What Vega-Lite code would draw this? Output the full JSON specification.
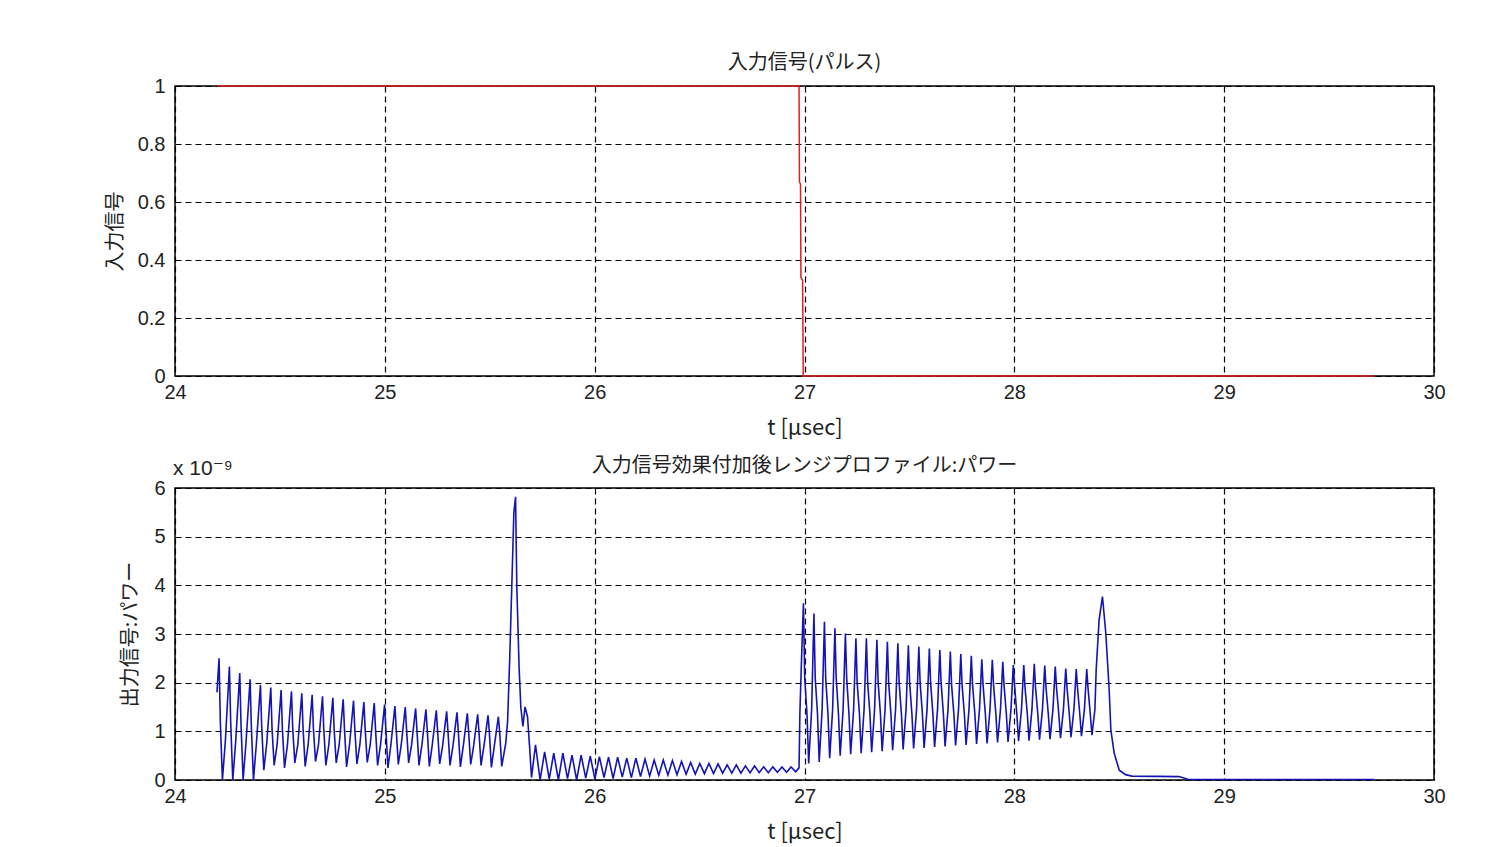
{
 "$schema": "https://vega.github.io/schema/vega-lite/v6.json",
 "background": "white",
 "padding": {"left": 104, "top": 52, "right": 10, "bottom": 5},
 "spacing": 16,
 "config": {
  "view": {"stroke": "#000", "strokeWidth": 1.5},
  "axis": {"grid": true, "gridColor": "#000", "gridDash": [6, 4], "gridWidth": 1.2, "gridOpacity": 1, "domain": false, "ticks": false,
   "labelFont": "Liberation Sans, DejaVu Sans", "labelFontSize": 20, "labelColor": "#222",
   "titleFont": "Noto Sans CJK JP", "titleFontSize": 20, "titleFontWeight": "normal", "titleColor": "#222",
   "labelFlush": false, "labelOverlap": false},
  "title": {"font": "Noto Sans CJK JP", "fontSize": 20, "fontWeight": "normal", "color": "#222", "offset": 3}
 },
 "datasets": {
  "pulse": [
   {"t": 24.2, "v": 1}, {"t": 26.974, "v": 1}, {"t": 26.976, "v": 0.67}, {"t": 26.981, "v": 0.66},
   {"t": 26.983, "v": 0.34}, {"t": 26.991, "v": 0.33}, {"t": 26.994, "v": 0}, {"t": 29.71, "v": 0}
  ],
  "power": [
   {"t": 24.2, "p": 1.8},
   {"t": 24.21, "p": 2.5}, {"t": 24.216, "p": 1.2}, {"t": 24.226, "p": 0}, {"t": 24.24, "p": 0.8},
   {"t": 24.2593, "p": 2.33}, {"t": 24.2653, "p": 1.2}, {"t": 24.2753, "p": 0}, {"t": 24.2893, "p": 0.8},
   {"t": 24.3086, "p": 2.2}, {"t": 24.3146, "p": 1.15}, {"t": 24.3246, "p": 0}, {"t": 24.3386, "p": 0.78},
   {"t": 24.3579, "p": 2.07}, {"t": 24.3639, "p": 1.1}, {"t": 24.3739, "p": 0}, {"t": 24.3879, "p": 0.75},
   {"t": 24.4072, "p": 1.95}, {"t": 24.4132, "p": 1.1}, {"t": 24.4232, "p": 0.2}, {"t": 24.4372, "p": 0.75},
   {"t": 24.4565, "p": 1.9}, {"t": 24.4625, "p": 1.05}, {"t": 24.4725, "p": 0.3}, {"t": 24.4865, "p": 0.72},
   {"t": 24.5058, "p": 1.85}, {"t": 24.5118, "p": 1.05}, {"t": 24.5218, "p": 0.25}, {"t": 24.5358, "p": 0.72},
   {"t": 24.5551, "p": 1.82}, {"t": 24.5611, "p": 1.05}, {"t": 24.5711, "p": 0.35}, {"t": 24.5851, "p": 0.72},
   {"t": 24.6044, "p": 1.78}, {"t": 24.6104, "p": 1.05}, {"t": 24.6204, "p": 0.28}, {"t": 24.6344, "p": 0.72},
   {"t": 24.6537, "p": 1.75}, {"t": 24.6597, "p": 1.05}, {"t": 24.6697, "p": 0.38}, {"t": 24.6837, "p": 0.72},
   {"t": 24.703, "p": 1.72}, {"t": 24.709, "p": 1.05}, {"t": 24.719, "p": 0.3}, {"t": 24.733, "p": 0.72},
   {"t": 24.7523, "p": 1.69}, {"t": 24.7583, "p": 1.05}, {"t": 24.7683, "p": 0.35}, {"t": 24.7823, "p": 0.72},
   {"t": 24.8016, "p": 1.66}, {"t": 24.8076, "p": 1.05}, {"t": 24.8176, "p": 0.27}, {"t": 24.8316, "p": 0.72},
   {"t": 24.8509, "p": 1.63}, {"t": 24.8569, "p": 1.05}, {"t": 24.8669, "p": 0.33}, {"t": 24.8809, "p": 0.72},
   {"t": 24.9002, "p": 1.6}, {"t": 24.9062, "p": 1.05}, {"t": 24.9162, "p": 0.36}, {"t": 24.9302, "p": 0.72},
   {"t": 24.9495, "p": 1.58}, {"t": 24.9555, "p": 1.05}, {"t": 24.9655, "p": 0.3}, {"t": 24.9795, "p": 0.72},
   {"t": 24.9988, "p": 1.55}, {"t": 25.0048, "p": 1.05}, {"t": 25.0148, "p": 0.25}, {"t": 25.0288, "p": 0.72},
   {"t": 25.0481, "p": 1.52}, {"t": 25.0541, "p": 1.05}, {"t": 25.0641, "p": 0.32}, {"t": 25.0781, "p": 0.72},
   {"t": 25.0974, "p": 1.5}, {"t": 25.1034, "p": 1.05}, {"t": 25.1134, "p": 0.35}, {"t": 25.1274, "p": 0.72},
   {"t": 25.1467, "p": 1.47}, {"t": 25.1527, "p": 1.05}, {"t": 25.1627, "p": 0.3}, {"t": 25.1767, "p": 0.72},
   {"t": 25.196, "p": 1.45}, {"t": 25.202, "p": 1.05}, {"t": 25.212, "p": 0.28}, {"t": 25.226, "p": 0.72},
   {"t": 25.2453, "p": 1.43}, {"t": 25.2513, "p": 1.02}, {"t": 25.2613, "p": 0.33}, {"t": 25.2753, "p": 0.7},
   {"t": 25.2946, "p": 1.41}, {"t": 25.3006, "p": 1.02}, {"t": 25.3106, "p": 0.3}, {"t": 25.3246, "p": 0.7},
   {"t": 25.3439, "p": 1.39}, {"t": 25.3499, "p": 1.02}, {"t": 25.3599, "p": 0.27}, {"t": 25.3739, "p": 0.7},
   {"t": 25.3932, "p": 1.37}, {"t": 25.3992, "p": 1.0}, {"t": 25.4092, "p": 0.32}, {"t": 25.4232, "p": 0.7},
   {"t": 25.4425, "p": 1.35}, {"t": 25.4485, "p": 1.0}, {"t": 25.4585, "p": 0.3}, {"t": 25.4725, "p": 0.7},
   {"t": 25.4918, "p": 1.33}, {"t": 25.4978, "p": 1.0}, {"t": 25.5078, "p": 0.26}, {"t": 25.5218, "p": 0.7},
   {"t": 25.5411, "p": 1.3}, {"t": 25.5471, "p": 1.0}, {"t": 25.5571, "p": 0.28}, {"t": 25.5761, "p": 0.75},
   {"t": 25.585, "p": 1.2}, {"t": 25.595, "p": 2.47}, {"t": 25.605, "p": 3.97}, {"t": 25.615, "p": 5.5},
   {"t": 25.623, "p": 5.82}, {"t": 25.629, "p": 3.97}, {"t": 25.64, "p": 2.3}, {"t": 25.648, "p": 1.5},
   {"t": 25.658, "p": 1.1}, {"t": 25.668, "p": 1.5}, {"t": 25.68, "p": 1.3}, {"t": 25.69, "p": 0.68},
   {"t": 25.699, "p": 0.05},
   {"t": 25.718, "p": 0.72}, {"t": 25.74, "p": 0.0},
   {"t": 25.7615, "p": 0.58}, {"t": 25.7835, "p": 0.02},
   {"t": 25.805, "p": 0.55}, {"t": 25.827, "p": 0.0},
   {"t": 25.8485, "p": 0.55}, {"t": 25.8705, "p": 0.03},
   {"t": 25.892, "p": 0.51}, {"t": 25.914, "p": 0.0},
   {"t": 25.9355, "p": 0.51}, {"t": 25.9575, "p": 0.04},
   {"t": 25.979, "p": 0.49}, {"t": 26.001, "p": 0.02},
   {"t": 26.0225, "p": 0.48}, {"t": 26.0445, "p": 0.05},
   {"t": 26.066, "p": 0.47}, {"t": 26.088, "p": 0.03},
   {"t": 26.1095, "p": 0.47}, {"t": 26.1315, "p": 0.06},
   {"t": 26.153, "p": 0.45}, {"t": 26.175, "p": 0.05},
   {"t": 26.1965, "p": 0.45}, {"t": 26.2185, "p": 0.07},
   {"t": 26.24, "p": 0.43}, {"t": 26.262, "p": 0.08},
   {"t": 26.2835, "p": 0.41}, {"t": 26.3055, "p": 0.1},
   {"t": 26.327, "p": 0.41}, {"t": 26.349, "p": 0.1},
   {"t": 26.3705, "p": 0.4}, {"t": 26.3925, "p": 0.11},
   {"t": 26.414, "p": 0.38}, {"t": 26.436, "p": 0.12},
   {"t": 26.4575, "p": 0.36}, {"t": 26.4795, "p": 0.12},
   {"t": 26.501, "p": 0.34}, {"t": 26.523, "p": 0.13},
   {"t": 26.5445, "p": 0.34}, {"t": 26.5665, "p": 0.13},
   {"t": 26.588, "p": 0.33}, {"t": 26.61, "p": 0.14},
   {"t": 26.6315, "p": 0.31}, {"t": 26.6535, "p": 0.14},
   {"t": 26.675, "p": 0.31}, {"t": 26.697, "p": 0.14},
   {"t": 26.7185, "p": 0.29}, {"t": 26.7405, "p": 0.15},
   {"t": 26.762, "p": 0.29}, {"t": 26.784, "p": 0.15},
   {"t": 26.8055, "p": 0.27}, {"t": 26.8275, "p": 0.15},
   {"t": 26.849, "p": 0.27}, {"t": 26.871, "p": 0.16},
   {"t": 26.8925, "p": 0.27}, {"t": 26.9145, "p": 0.16},
   {"t": 26.936, "p": 0.27}, {"t": 26.958, "p": 0.17},
   {"t": 26.974, "p": 0.25}, {"t": 26.978, "p": 1.37}, {"t": 26.986, "p": 2.5},
   {"t": 26.995, "p": 3.63}, {"t": 27.001, "p": 2.1}, {"t": 27.012, "p": 1.35}, {"t": 27.02, "p": 0.34}, {"t": 27.034, "p": 1.45},
   {"t": 27.045, "p": 3.42}, {"t": 27.051, "p": 2.1}, {"t": 27.062, "p": 1.35}, {"t": 27.07, "p": 0.37}, {"t": 27.084, "p": 1.45},
   {"t": 27.095, "p": 3.25}, {"t": 27.101, "p": 2.1}, {"t": 27.112, "p": 1.35}, {"t": 27.12, "p": 0.45}, {"t": 27.134, "p": 1.45},
   {"t": 27.145, "p": 3.12}, {"t": 27.151, "p": 2.1}, {"t": 27.162, "p": 1.35}, {"t": 27.17, "p": 0.5}, {"t": 27.184, "p": 1.45},
   {"t": 27.195, "p": 3.01}, {"t": 27.201, "p": 2.1}, {"t": 27.212, "p": 1.35}, {"t": 27.22, "p": 0.53}, {"t": 27.234, "p": 1.45},
   {"t": 27.245, "p": 2.91}, {"t": 27.251, "p": 2.0}, {"t": 27.262, "p": 1.35}, {"t": 27.27, "p": 0.55}, {"t": 27.284, "p": 1.45},
   {"t": 27.295, "p": 2.91}, {"t": 27.301, "p": 2.0}, {"t": 27.312, "p": 1.35}, {"t": 27.32, "p": 0.57}, {"t": 27.334, "p": 1.45},
   {"t": 27.345, "p": 2.88}, {"t": 27.351, "p": 2.0}, {"t": 27.362, "p": 1.35}, {"t": 27.37, "p": 0.59}, {"t": 27.384, "p": 1.45},
   {"t": 27.395, "p": 2.84}, {"t": 27.401, "p": 2.0}, {"t": 27.412, "p": 1.35}, {"t": 27.42, "p": 0.61}, {"t": 27.434, "p": 1.45},
   {"t": 27.445, "p": 2.81}, {"t": 27.451, "p": 2.0}, {"t": 27.462, "p": 1.35}, {"t": 27.47, "p": 0.63}, {"t": 27.484, "p": 1.45},
   {"t": 27.495, "p": 2.77}, {"t": 27.501, "p": 2.0}, {"t": 27.512, "p": 1.35}, {"t": 27.52, "p": 0.65}, {"t": 27.534, "p": 1.45},
   {"t": 27.545, "p": 2.74}, {"t": 27.551, "p": 2.0}, {"t": 27.562, "p": 1.35}, {"t": 27.57, "p": 0.66}, {"t": 27.584, "p": 1.45},
   {"t": 27.595, "p": 2.7}, {"t": 27.601, "p": 2.0}, {"t": 27.612, "p": 1.35}, {"t": 27.62, "p": 0.68}, {"t": 27.634, "p": 1.45},
   {"t": 27.645, "p": 2.67}, {"t": 27.651, "p": 2.0}, {"t": 27.662, "p": 1.35}, {"t": 27.67, "p": 0.69}, {"t": 27.684, "p": 1.45},
   {"t": 27.695, "p": 2.64}, {"t": 27.701, "p": 1.95}, {"t": 27.712, "p": 1.35}, {"t": 27.72, "p": 0.71}, {"t": 27.734, "p": 1.45},
   {"t": 27.745, "p": 2.59}, {"t": 27.751, "p": 1.95}, {"t": 27.762, "p": 1.35}, {"t": 27.77, "p": 0.72}, {"t": 27.784, "p": 1.45},
   {"t": 27.795, "p": 2.55}, {"t": 27.801, "p": 1.95}, {"t": 27.812, "p": 1.35}, {"t": 27.82, "p": 0.74}, {"t": 27.834, "p": 1.45},
   {"t": 27.845, "p": 2.48}, {"t": 27.851, "p": 1.95}, {"t": 27.862, "p": 1.35}, {"t": 27.87, "p": 0.75}, {"t": 27.884, "p": 1.45},
   {"t": 27.895, "p": 2.47}, {"t": 27.901, "p": 1.95}, {"t": 27.912, "p": 1.35}, {"t": 27.92, "p": 0.77}, {"t": 27.934, "p": 1.45},
   {"t": 27.945, "p": 2.43}, {"t": 27.951, "p": 1.95}, {"t": 27.962, "p": 1.35}, {"t": 27.97, "p": 0.78}, {"t": 27.984, "p": 1.45},
   {"t": 27.995, "p": 2.36}, {"t": 28.001, "p": 1.95}, {"t": 28.012, "p": 1.35}, {"t": 28.02, "p": 0.8}, {"t": 28.034, "p": 1.45},
   {"t": 28.045, "p": 2.36}, {"t": 28.051, "p": 1.9}, {"t": 28.062, "p": 1.35}, {"t": 28.07, "p": 0.81}, {"t": 28.084, "p": 1.45},
   {"t": 28.095, "p": 2.39}, {"t": 28.101, "p": 1.9}, {"t": 28.112, "p": 1.35}, {"t": 28.12, "p": 0.83}, {"t": 28.134, "p": 1.45},
   {"t": 28.145, "p": 2.35}, {"t": 28.151, "p": 1.9}, {"t": 28.162, "p": 1.35}, {"t": 28.17, "p": 0.84}, {"t": 28.184, "p": 1.45},
   {"t": 28.195, "p": 2.33}, {"t": 28.201, "p": 1.9}, {"t": 28.212, "p": 1.35}, {"t": 28.22, "p": 0.86}, {"t": 28.234, "p": 1.45},
   {"t": 28.245, "p": 2.29}, {"t": 28.251, "p": 1.9}, {"t": 28.262, "p": 1.35}, {"t": 28.27, "p": 0.88}, {"t": 28.284, "p": 1.45},
   {"t": 28.295, "p": 2.28}, {"t": 28.301, "p": 1.9}, {"t": 28.312, "p": 1.35}, {"t": 28.32, "p": 0.9}, {"t": 28.334, "p": 1.45},
   {"t": 28.345, "p": 2.28}, {"t": 28.351, "p": 1.9}, {"t": 28.362, "p": 1.35}, {"t": 28.37, "p": 0.92}, {"t": 28.384, "p": 1.45},
   {"t": 28.39, "p": 2.26}, {"t": 28.404, "p": 3.29}, {"t": 28.42, "p": 3.77}, {"t": 28.436, "p": 3.01},
   {"t": 28.452, "p": 1.85}, {"t": 28.46, "p": 1.03}, {"t": 28.476, "p": 0.55}, {"t": 28.5, "p": 0.2},
   {"t": 28.53, "p": 0.11}, {"t": 28.56, "p": 0.08}, {"t": 28.785, "p": 0.07}, {"t": 28.83, "p": 0.01},
   {"t": 29.715, "p": 0.01}
  ]
 },
 "vconcat": [
  {
   "title": "入力信号(パルス)",
   "width": 1259,
   "height": 290,
   "data": {"name": "pulse"},
   "mark": {"type": "line", "color": "#e02020", "strokeWidth": 1.5},
   "encoding": {
    "x": {"field": "t", "type": "quantitative", "scale": {"domain": [24, 30], "nice": false},
     "axis": {"values": [24, 25, 26, 27, 28, 29, 30], "format": "d", "title": "t [μsec]", "titleFontSize": 22, "labelPadding": 6, "titlePadding": 15}},
    "y": {"field": "v", "type": "quantitative", "scale": {"domain": [0, 1], "nice": false},
     "axis": {"values": [0, 0.2, 0.4, 0.6, 0.8, 1], "format": "~g", "title": "入力信号", "labelPadding": 10, "titlePadding": 12}}
   }
  },
  {
   "title": {"text": "入力信号効果付加後レンジプロファイル:パワー", "offset": -18},
   "width": 1259,
   "height": 292,
   "layer": [
    {
     "data": {"name": "power"},
     "mark": {"type": "line", "color": "#1414b4", "strokeWidth": 1.6},
     "encoding": {
      "x": {"field": "t", "type": "quantitative", "scale": {"domain": [24, 30], "nice": false},
       "axis": {"values": [24, 25, 26, 27, 28, 29, 30], "format": "d", "title": "t [μsec]", "titleFontSize": 22, "labelPadding": 6, "titlePadding": 15}},
      "y": {"field": "p", "type": "quantitative", "scale": {"domain": [0, 6], "nice": false},
       "axis": {"values": [0, 1, 2, 3, 4, 5, 6], "format": "d", "title": "出力信号:パワー", "labelPadding": 10, "titlePadding": 13}}
     }
    },
    {
     "data": {"values": [{}]},
     "mark": {"type": "text", "align": "left", "baseline": "alphabetic", "dy": -13, "dx": -2, "fontSize": 21, "font": "Liberation Sans, DejaVu Sans", "color": "#222"},
     "encoding": {
      "x": {"datum": 24, "type": "quantitative"},
      "y": {"datum": 6, "type": "quantitative"},
      "text": {"value": "x 10⁻⁹"}
     }
    }
   ]
  }
 ]
}
